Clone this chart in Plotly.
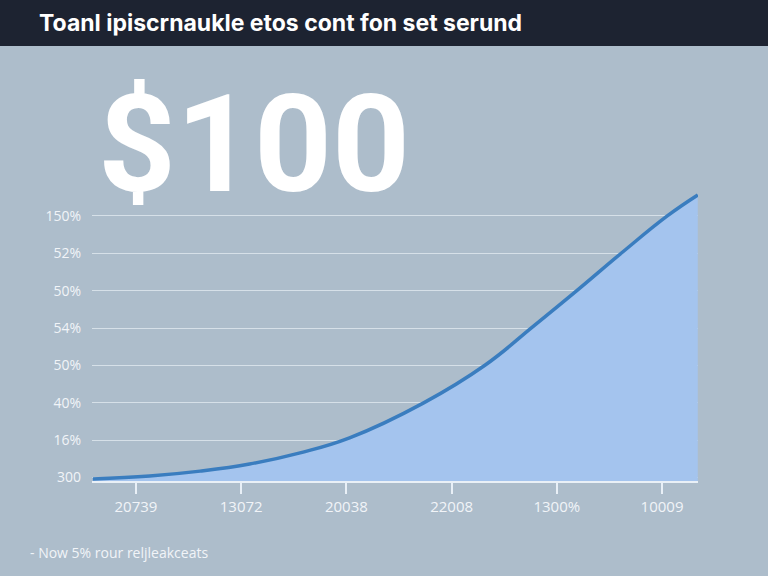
import plotly.graph_objects as go

# ---- data ----
x_vals = [-0.41, 0.13, 0.61, 1.08, 1.56, 2.03, 2.73, 3.32, 3.77, 4.19, 4.62, 5.05, 5.34]
y_vals = [-0.04, 0.04, 0.17, 0.36, 0.66, 1.06, 1.99, 3.01, 4.03, 5.00, 6.02, 7.00, 7.56]
x_tick_labels = ["20739", "13072", "20038", "22008", "1300%", "10009"]
y_tick_labels = ["300", "16%", "40%", "50%", "54%", "50%", "52%", "150%"]

title_text = "Toanl ipiscrnaukle etos cont fon set serund"
big_text = "$100"
foot_text = "- Now 5% rour reljleakceats"

# ---- layout geometry ----
W, H = 768, 576
L, R, T, B = 92, 70, 186, 95
PW, PH = W - L - R, H - T - B
X_RANGE = [-0.418, 5.342]
Y_RANGE = [-0.094, 7.8]


def px(xp):
    return (xp - L) / PW


def py(yp):
    return (H - B - yp) / PH


BG = "#adbdcb"
HEADER = "#1d2331"
FILL = "#a4c4ee"
LINE = "#3a7dbf"
TXT = "#f1f4f8"

fig = go.Figure()
base = [Y_RANGE[0]] * len(x_vals)
fig.add_trace(go.Scatter(x=x_vals, y=base, mode="lines", line=dict(width=0, color=FILL),
                         hoverinfo="skip", showlegend=False))
fig.add_trace(go.Scatter(x=x_vals, y=y_vals, mode="lines",
                         line=dict(color=LINE, width=3.5, shape="spline", smoothing=1.2),
                         fill="tonexty", fillcolor=FILL, showlegend=False))

fig.update_layout(
    width=W, height=H,
    margin=dict(l=L, r=R, t=T, b=B),
    paper_bgcolor=BG, plot_bgcolor=BG,
    showlegend=False,
    xaxis=dict(range=X_RANGE, tickvals=list(range(len(x_tick_labels))), ticktext=x_tick_labels,
               showgrid=False, zeroline=False, showline=True, linecolor="#e9f0f7", linewidth=2,
               ticks="outside", ticklen=11, tickwidth=2, tickcolor="#e9f0f7",
               tickfont=dict(family="Open Sans", size=15, color=TXT)),
    yaxis=dict(range=Y_RANGE, tickvals=list(range(len(y_tick_labels))), ticktext=y_tick_labels,
               showgrid=True, gridcolor="rgba(236,242,248,0.65)", gridwidth=1, zeroline=False,
               showline=False, ticks="", ticklabelstandoff=10,
               tickfont=dict(family="Open Sans", size=14, color=TXT)),
    shapes=[dict(type="rect", xref="paper", yref="paper", x0=px(0), x1=px(W), y0=py(46), y1=py(0),
                 fillcolor=HEADER, line=dict(width=0), layer="above")],
    annotations=[
        dict(text=f"<b>{title_text}</b>", xref="paper", yref="paper", x=px(37), y=py(23),
             xanchor="left", yanchor="middle", showarrow=False,
             font=dict(family="Inter", size=23, color="#ffffff")),
        dict(text=f"<b>{big_text}</b>", xref="paper", yref="paper", x=px(96), y=py(144),
             xanchor="left", yanchor="middle", showarrow=False,
             font=dict(family="Roboto", size=136, color="#ffffff")),
        dict(text=foot_text, xref="paper", yref="paper", x=px(28), y=py(552),
             xanchor="left", yanchor="middle", showarrow=False,
             font=dict(family="Open Sans", size=14, color=TXT)),
    ],
)

fig.write_html("out.html")
